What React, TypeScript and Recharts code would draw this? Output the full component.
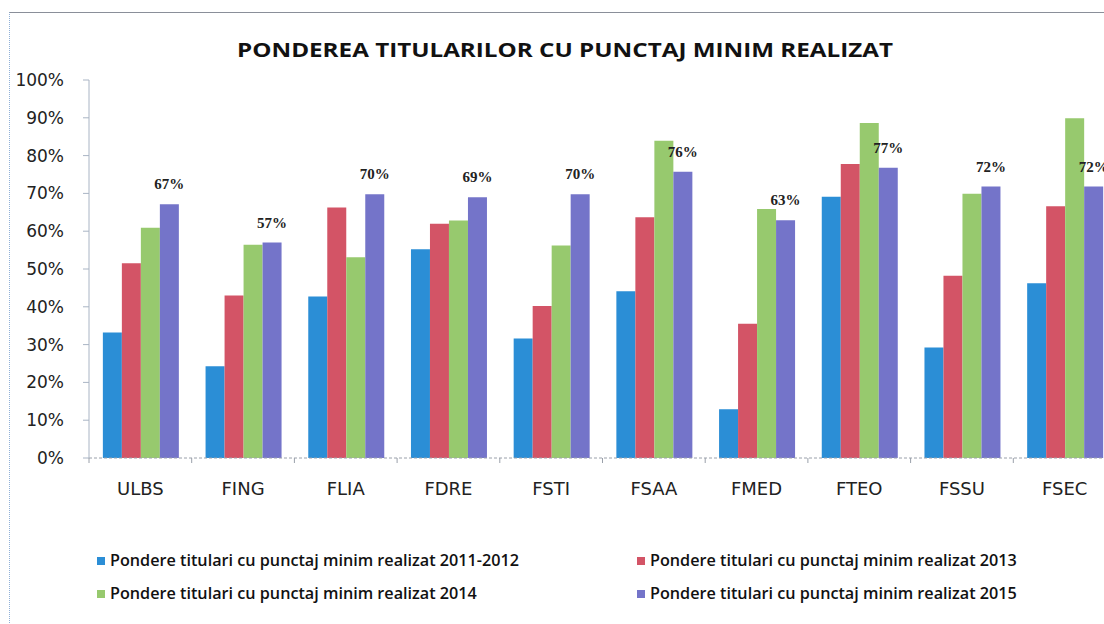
import { BarChart, Bar, XAxis, YAxis, LabelList } from 'recharts';

// Values (percent)
const categories = ['ULBS', 'FING', 'FLIA', 'FDRE', 'FSTI', 'FSAA', 'FMED', 'FTEO', 'FSSU', 'FSEC'];
const ponderi2011_2012 = [33.2, 24.3, 42.7, 55.2, 31.6, 44.1, 12.9, 69.1, 29.2, 46.2];
const ponderi2013 = [51.5, 43.0, 66.3, 62.0, 40.2, 63.7, 35.5, 77.8, 48.2, 66.6];
const ponderi2014 = [60.9, 56.4, 53.1, 62.8, 56.2, 83.9, 65.9, 88.6, 69.9, 89.9];
const ponderi2015 = [67.1, 57.0, 69.8, 69.0, 69.8, 75.7, 62.9, 76.8, 71.8, 71.8];
const yTicks = [0, 10, 20, 30, 40, 50, 60, 70, 80, 90, 100];

const series = [
  { key: 's1', name: 'Pondere titulari cu punctaj minim realizat 2011-2012', color: '#2b8ed6', values: ponderi2011_2012 },
  { key: 's2', name: 'Pondere titulari cu punctaj minim realizat 2013', color: '#d35466', values: ponderi2013 },
  { key: 's3', name: 'Pondere titulari cu punctaj minim realizat 2014', color: '#97c96e', values: ponderi2014 },
  { key: 's4', name: 'Pondere titulari cu punctaj minim realizat 2015', color: '#7474c9', values: ponderi2015 },
];

const chartData = categories.map((c, i) => {
  const row: Record<string, string | number> = { cat: c };
  series.forEach(s => { row[s.key] = s.values[i]; });
  return row;
});

// Category label plus a small tick on the left boundary of each band
function CategoryTick(props: any) {
  const { x, y, payload } = props;
  const half = payload?.offset ?? 51.35;
  return (
    <g>
      <line x1={x - half} y1={y} x2={x - half} y2={y + 5} stroke="#9aa0aa" />
      <text x={x} y={y + 37} textAnchor="middle" fill="#222" fontSize={18} fontFamily="DejaVu Sans">
        {payload.value}
      </text>
    </g>
  );
}

// legend placement: two columns, two rows
const legendPos = [
  { x: 97, y: 561 },
  { x: 637, y: 561 },
  { x: 97, y: 594 },
  { x: 637, y: 594 },
];

export default function App() {
  return (
    <div style={{ position: 'fixed', left: 0, top: 0, width: 1104, height: 624, overflow: 'hidden', background: '#fff' }}>
      <div style={{ position: 'absolute', left: 9, top: 12, width: 1200, height: 700, borderLeft: '1px dotted #8fb0d8', borderTop: '1px solid #8a8f99' }} />
      <div style={{ position: 'absolute', left: 0, top: 0 }}>
        <BarChart
          width={1130}
          height={624}
          data={chartData}
          margin={{ top: 80, right: 14, bottom: 126, left: 0 }}
          barCategoryGap="13.5%"
          barGap={0}
        >
          <XAxis
            dataKey="cat"
            stroke="#9aa0aa"
            strokeDasharray="3 2"
            tickLine={false}
            tickSize={0}
            tickMargin={0}
            height={40}
            interval={0}
            tick={<CategoryTick />}
          />
          <YAxis
            domain={[0, 100]}
            ticks={yTicks}
            width={89}
            interval={0}
            stroke="#a9b4c4"
            tickSize={6}
            tickMargin={19}
            tickFormatter={(v: number) => `${v}%`}
            tick={{ fill: '#222', fontSize: 17, fontFamily: 'DejaVu Sans' }}
          />
          {series.map(s => (
            <Bar key={s.key} dataKey={s.key} name={s.name} fill={s.color} isAnimationActive={false}>
              {s.key === 's4' && (
                <LabelList
                  dataKey={s.key}
                  position="top"
                  offset={15}
                  formatter={(v: number) => `${Math.round(v)}%`}
                  style={{ fill: '#222', fontSize: 15, fontWeight: 'bold', fontFamily: 'Liberation Serif' }}
                />
              )}
            </Bar>
          ))}
        </BarChart>
      </div>
      <svg width={1104} height={624} style={{ position: 'absolute', left: 0, top: 0, pointerEvents: 'none' }}>
        <text x={565} y={57} textAnchor="middle" fontFamily="Open Sans" fontWeight="bold" fontSize={20} fill="#111" textLength={656} lengthAdjust="spacingAndGlyphs">
          PONDEREA TITULARILOR CU PUNCTAJ MINIM REALIZAT
        </text>
        {series.map((s, i) => (
          <g key={s.key}>
            <rect x={legendPos[i].x} y={legendPos[i].y - 4} width={8} height={8} fill={s.color} />
            <text x={legendPos[i].x + 13} y={legendPos[i].y + 5} fontFamily="Open Sans" fontWeight={600} fontSize={16.2} fill="#111">
              {s.name}
            </text>
          </g>
        ))}
      </svg>
    </div>
  );
}
